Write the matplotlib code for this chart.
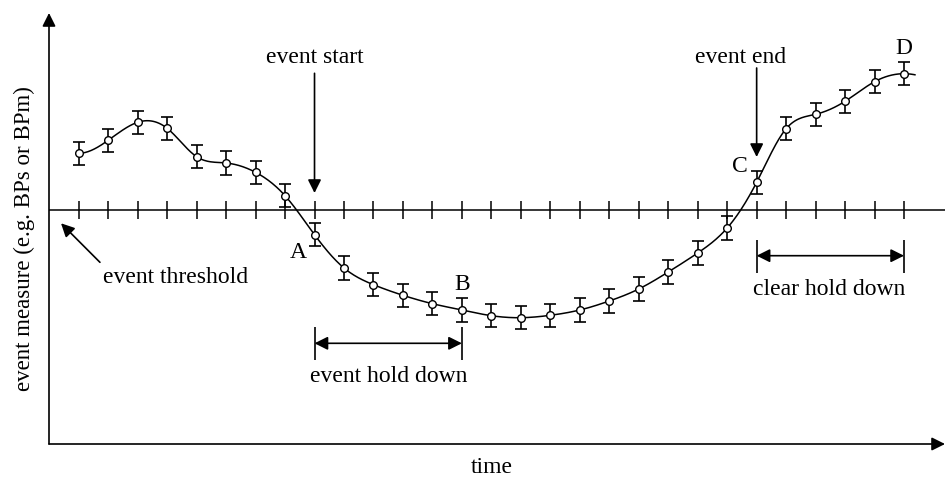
import numpy as np
import matplotlib
matplotlib.use('Agg')
import matplotlib.pyplot as plt

plt.rcParams['font.family'] = ['Liberation Serif', 'DejaVu Serif']

# measurements, one per time step (threshold at 0)
steps = np.arange(29)
values = [5.67, 6.97, 8.77, 8.17, 5.33, 4.70, 3.77, 1.43, -2.47, -5.80,
          -7.47, -8.53, -9.37, -10.0, -10.57, -10.77, -10.53, -10.0, -9.10,
          -7.90, -6.20, -4.30, -1.80, 2.77, 8.13, 9.57, 10.87, 12.83, 13.63]
err = 1.17

event_start = 8
event_b = 13
event_end = 23
event_d = 28


def clamped_spline(xs, ys, xn):
    xs = np.asarray(xs, float)
    ys = np.asarray(ys, float)
    n = len(xs)
    h = np.diff(xs)
    A = np.zeros((n, n))
    b = np.zeros(n)
    # zero slope at both ends
    A[0, 0] = 2 * h[0]
    A[0, 1] = h[0]
    b[0] = 3 * (ys[1] - ys[0]) / h[0]
    A[-1, -2] = h[-1]
    A[-1, -1] = 2 * h[-1]
    b[-1] = -3 * (ys[-1] - ys[-2]) / h[-1]
    for i in range(1, n - 1):
        A[i, i - 1] = h[i - 1]
        A[i, i] = 2 * (h[i - 1] + h[i])
        A[i, i + 1] = h[i]
        b[i] = 3 * ((ys[i + 1] - ys[i]) / h[i] - (ys[i] - ys[i - 1]) / h[i - 1])
    c = np.linalg.solve(A, b)
    idx = np.clip(np.searchsorted(xs, xn) - 1, 0, n - 2)
    dx = xn - xs[idx]
    hi = h[idx]
    bi = (ys[idx + 1] - ys[idx]) / hi - hi * (2 * c[idx] + c[idx + 1]) / 3
    di = (c[idx + 1] - c[idx]) / (3 * hi)
    return ys[idx] + bi * dx + c[idx] * dx ** 2 + di * dx ** 3


fig = plt.figure(figsize=(9.51, 4.79), dpi=100)
ax = fig.add_axes([49 / 951, 35 / 479, 896 / 951, 431 / 479])
ax.set_xlim(-1.008, 29.39)
ax.set_ylim(-23.4, 19.7)
ax.axis('off')

# axes with arrow heads
ax.annotate('', xy=(0, 1), xytext=(0, 0), xycoords='axes fraction',
            arrowprops=dict(arrowstyle='-|>', color='k', lw=1.2,
                            mutation_scale=20, shrinkA=0, shrinkB=0))
ax.annotate('', xy=(1, 0), xytext=(0, 0), xycoords='axes fraction',
            arrowprops=dict(arrowstyle='-|>', color='k', lw=1.2,
                            mutation_scale=20, shrinkA=0, shrinkB=0))

# threshold line with ticks
ax.axhline(0, color='k', lw=1.1)
ax.vlines(steps, -0.9, 0.9, color='k', lw=1.1)

# smooth curve
xs = np.linspace(0, 28.37, 800)
ax.plot(xs, clamped_spline(steps, values, xs), color='k', lw=1.1, zorder=3)

ax.errorbar(steps, values, yerr=err, fmt='none', ecolor='k', elinewidth=1.2,
            capsize=4, capthick=1.2, zorder=4)
ax.plot(steps, values, 'o', mfc='white', mec='k', ms=5.5, mew=1.0, zorder=5)

fs = 17
arrow = dict(arrowstyle='-|>', color='k', lw=1.2, mutation_scale=20,
             shrinkA=0, shrinkB=0)
both = dict(arrowstyle='<|-|>', color='k', lw=1.2, mutation_scale=20,
            shrinkA=0, shrinkB=0)

ax.text(event_start, 14.67, 'event start', ha='center', va='baseline', fontsize=fs)
ax.annotate('', xy=(event_start, 1.7), xytext=(event_start, 13.67), arrowprops=arrow)

ax.text(22.45, 14.67, 'event end', ha='center', va='baseline', fontsize=fs)
ax.annotate('', xy=(event_end, 5.3), xytext=(event_end, 14.2), arrowprops=arrow)

ax.text(3.27, -7.27, 'event threshold', ha='center', va='baseline', fontsize=fs)
ax.annotate('', xy=(-0.6, -1.33), xytext=(0.72, -5.23), arrowprops=arrow)

ax.text(7.44, -4.3, 'A', ha='center', va='center', fontsize=fs)
ax.text(event_b, -7.4, 'B', ha='center', va='center', fontsize=fs)
ax.text(22.44, 4.4, 'C', ha='center', va='center', fontsize=fs)
ax.text(event_d, 16.2, 'D', ha='center', va='center', fontsize=fs)

# hold down spans
ax.vlines([event_start, event_b], -15.0, -11.7, color='k', lw=1.2)
ax.annotate('', xy=(event_b, -13.33), xytext=(event_start, -13.33), arrowprops=both)
ax.text((event_start + event_b) / 2, -17.17, 'event hold down', ha='center',
        va='baseline', fontsize=fs)

ax.vlines([event_end, event_d], -6.3, -3.0, color='k', lw=1.2)
ax.annotate('', xy=(event_d, -4.57), xytext=(event_end, -4.57), arrowprops=both)
ax.text(25.47, -8.5, 'clear hold down', ha='center', va='baseline', fontsize=fs)

fig.text(492 / 951, 1 - 473 / 479, 'time', ha='center', va='baseline', fontsize=fs)
fig.text(24 / 951, 1 - 239 / 479, 'event measure (e.g. BPs or BPm)', rotation=90,
         ha='center', va='center', fontsize=16.5)

fig.savefig('out.png', dpi=100)
